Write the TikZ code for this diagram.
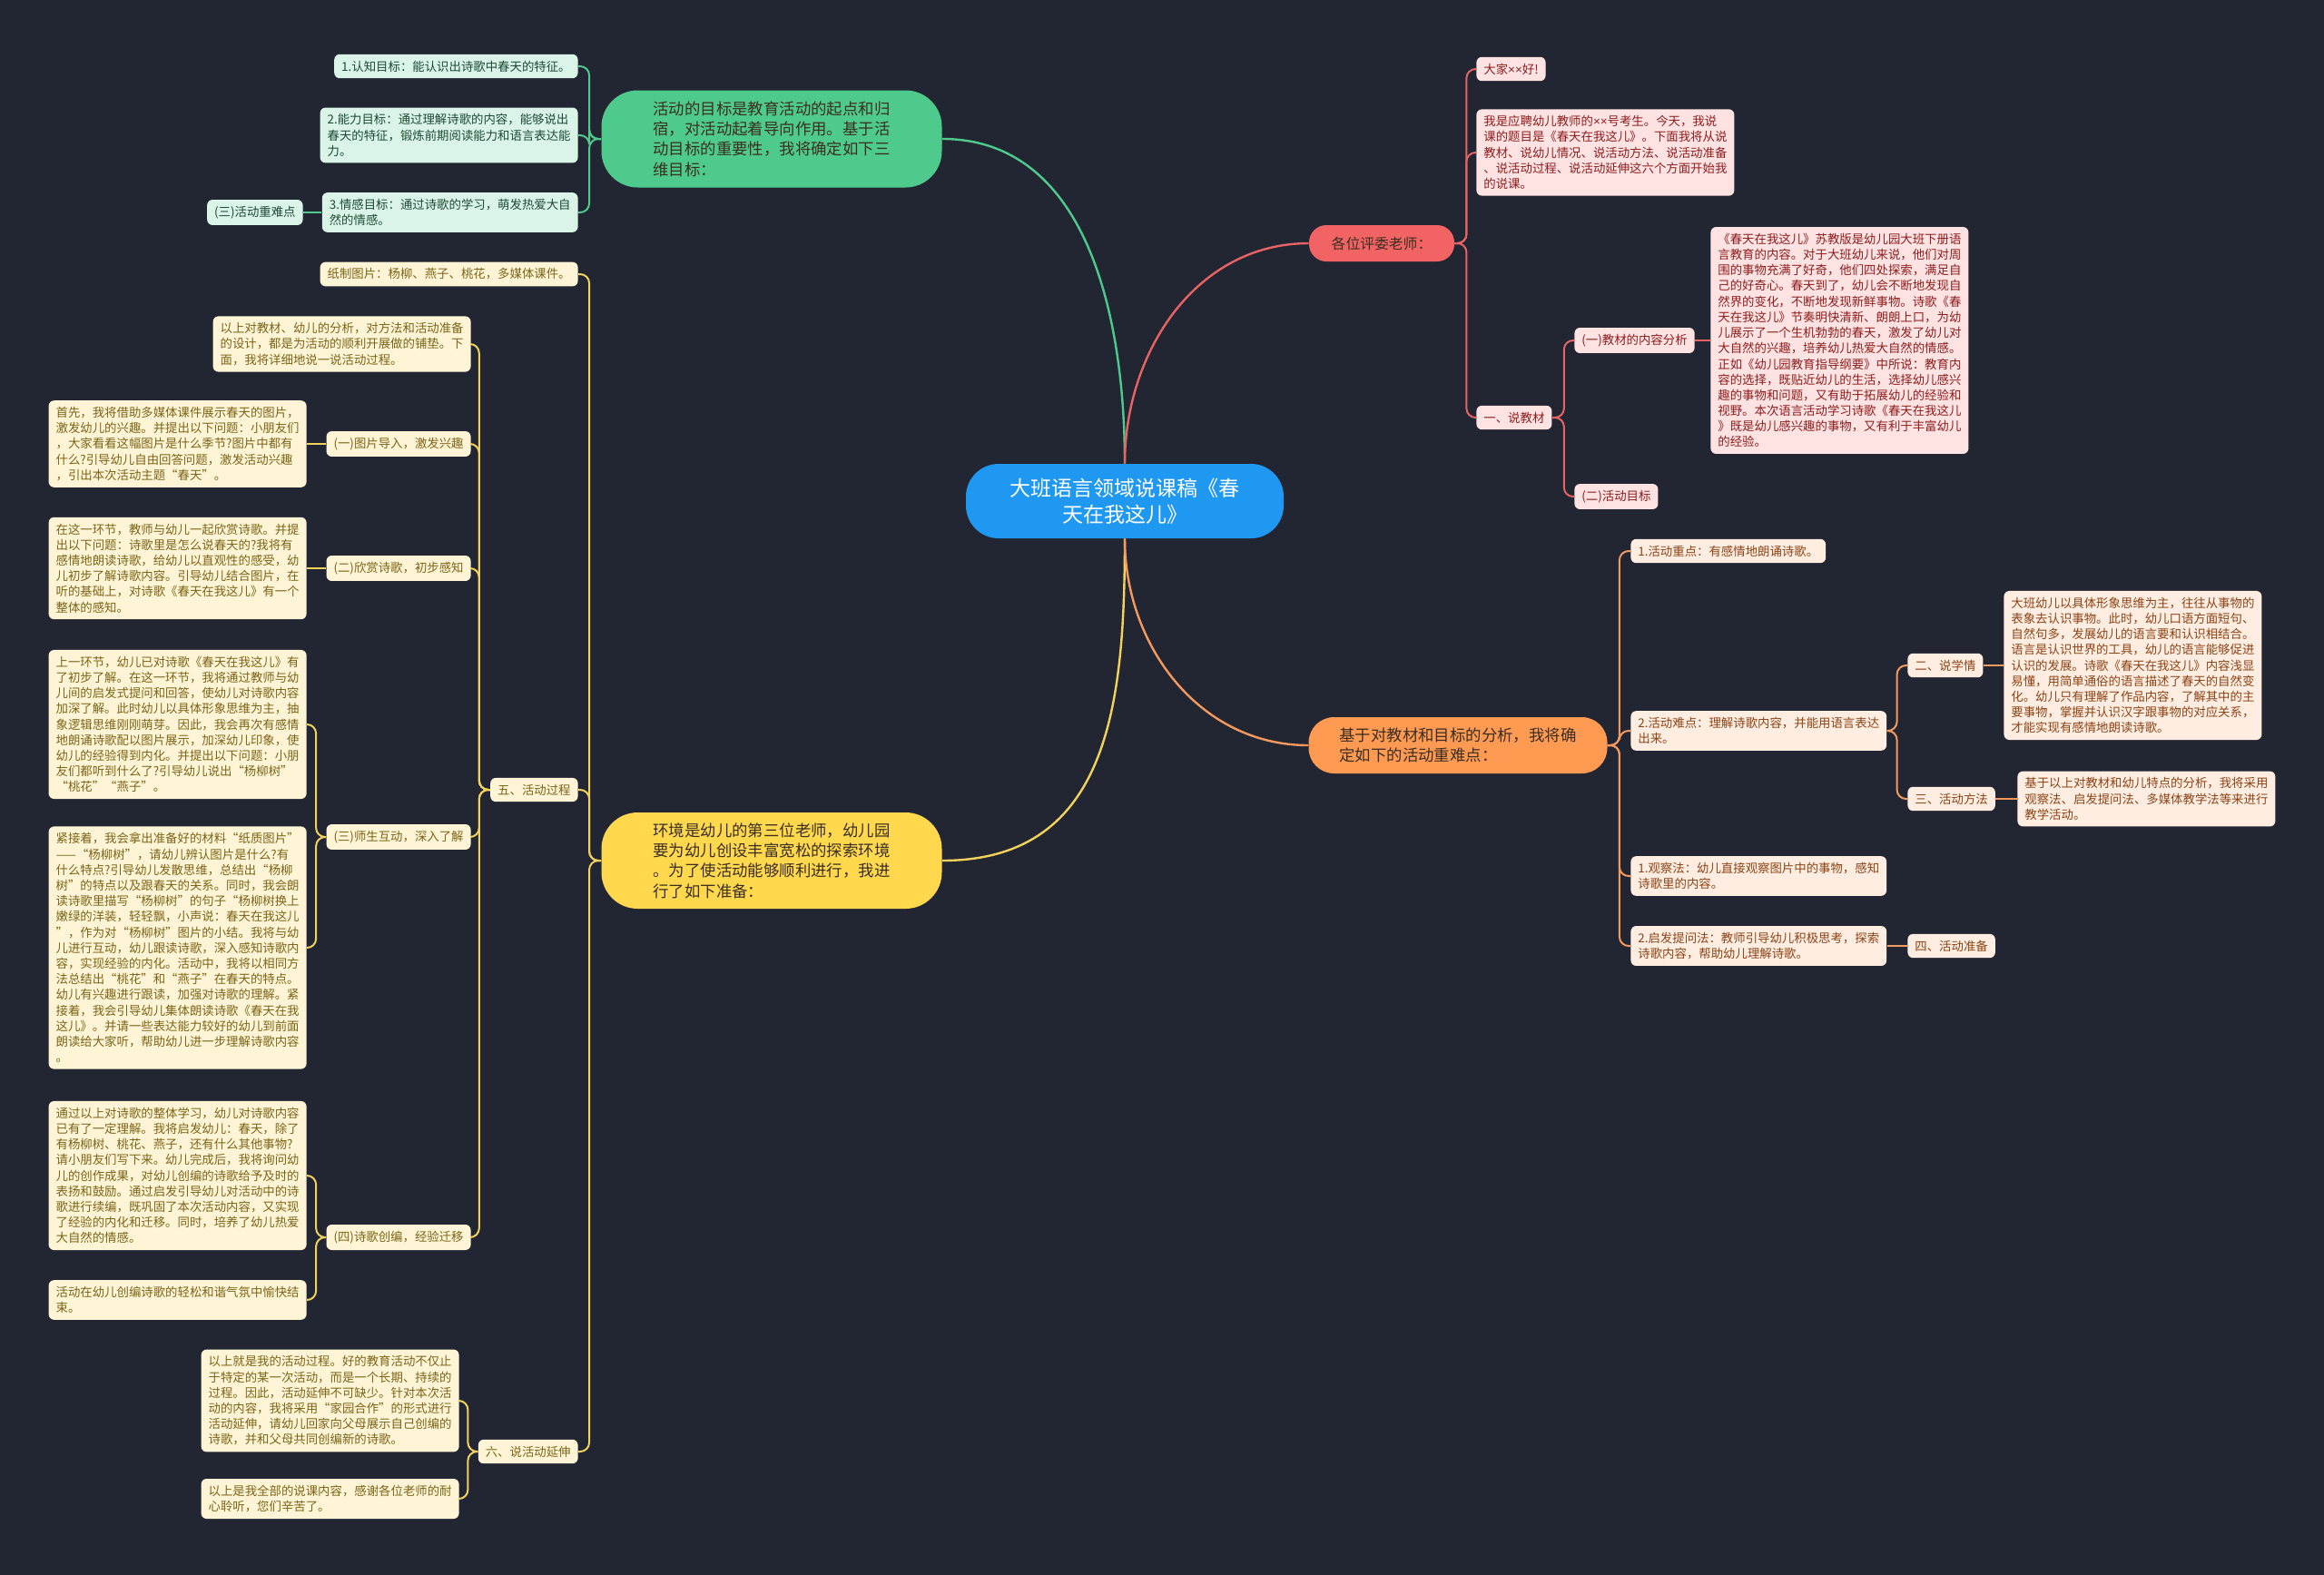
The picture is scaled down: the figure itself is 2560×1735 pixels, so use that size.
\documentclass[tikz,border=0pt]{standalone}
\usepackage{fontspec}
\setmainfont{Noto Sans CJK SC}
\newfontfamily\latinfont{Liberation Sans}
\definecolor{canvas}{HTML}{222633}
\definecolor{rootblue}{HTML}{1E98F0}
\definecolor{topgreen}{HTML}{4ECB8C}
\definecolor{topyellow}{HTML}{FFD84D}
\definecolor{toporange}{HTML}{FF9A52}
\definecolor{topred}{HTML}{F26464}
\definecolor{leafgreen}{HTML}{DAF5E7}
\definecolor{leafyellow}{HTML}{FFF5D6}
\definecolor{leafred}{HTML}{FFE2E2}
\definecolor{leaforange}{HTML}{FFEDE1}
\definecolor{inkgreen}{HTML}{1E4A34}
\definecolor{inkyellow}{HTML}{7A6418}
\definecolor{inkred}{HTML}{8C1E1E}
\definecolor{inkorange}{HTML}{8A4416}
\definecolor{inkdark}{HTML}{3A2E22}
\definecolor{linegreen}{HTML}{4ECB8C}
\definecolor{lineyellow}{HTML}{F2D25A}
\definecolor{linered}{HTML}{E86464}
\definecolor{lineorange}{HTML}{F59A5E}
\newcommand{\leaffont}{\fontsize{6.7pt}{8.6pt}\selectfont}
\newcommand{\topicfont}{\fontsize{8.7pt}{11.2pt}\selectfont}
\newcommand{\rootfont}{\fontsize{11.5pt}{14.5pt}\selectfont}
\newcommand{\redfont}{\fontsize{7.9pt}{10pt}\selectfont}
\newcommand{\xx}{{\latinfont ××}}
\tikzset{
  leaf/.style={rounded corners=3pt, inner xsep=4pt, inner ysep=3.5pt, align=left, font=\leaffont},
  gleaf/.style={leaf, fill=leafgreen, text=inkgreen},
  yleaf/.style={leaf, fill=leafyellow, text=inkyellow},
  rleaf/.style={leaf, fill=leafred, text=inkred},
  oleaf/.style={leaf, fill=leaforange, text=inkorange},
  topic/.style={inner sep=0pt, align=left, font=\topicfont, text=inkdark},
  branch/.style={line width=1.2pt},
  gline/.style={draw=linegreen, line width=1pt, rounded corners=5pt},
  yline/.style={draw=lineyellow, line width=1pt, rounded corners=5pt},
  rline/.style={draw=linered, line width=1pt, rounded corners=5pt},
  oline/.style={draw=lineorange, line width=1pt, rounded corners=5pt},
}
\begin{document}
\begin{tikzpicture}[x=0.5pt, y=-0.5pt]
  % canvas
  \fill[canvas] (0,0) rectangle (2560,1735);
  \useasboundingbox (0,0) rectangle (2560,1735);

  % root and main topics
  \node[rounded corners=18pt, fill=rootblue, text=white, font=\rootfont, align=center,
        minimum width=175pt, minimum height=41pt, inner sep=0pt] (root) at (1239,552)
        {大班语言领域说课稿《春\\天在我这儿》};
  \node[topic, fill=topgreen, rounded corners=20pt, minimum width=187.5pt, minimum height=53.5pt] (gr) at (850,153)
        {活动的目标是教育活动的起点和归\\宿，对活动起着导向作用。基于活\\动目标的重要性，我将确定如下三\\维目标：};
  \node[topic, fill=topyellow, rounded corners=20pt, minimum width=187.5pt, minimum height=53pt] (ye) at (850,948)
        {环境是幼儿的第三位老师，幼儿园\\要为幼儿创设丰富宽松的探索环境\\。为了使活动能够顺利进行，我进\\行了如下准备：};
  \node[topic, fill=toporange, rounded corners=14pt, minimum width=164.5pt, minimum height=31pt] (or) at (1606,821)
        {基于对教材和目标的分析，我将确\\定如下的活动重难点：};
  \node[topic, fill=topred, font=\redfont, text=inkdark, rounded corners=9.5pt, minimum width=80pt, minimum height=20pt] (rd) at (1522,268)
        {各位评委老师：};

  % green branch
  \node[gleaf, anchor=east] (g1) at (637,73) {1.认知目标：能认识出诗歌中春天的特征。};
  \node[gleaf, anchor=east] (g2) at (637,149) {2.能力目标：通过理解诗歌的内容，能够说出\\春天的特征，锻炼前期阅读能力和语言表达能\\力。};
  \node[gleaf, anchor=east] (g3) at (637,234) {3.情感目标：通过诗歌的学习，萌发热爱大自\\然的情感。};
  \node[gleaf, anchor=east] (g3a) at (334,234) {(三)活动重难点};

  % yellow branch
  \node[yleaf, anchor=east] (y1) at (637,302) {纸制图片：杨柳、燕子、桃花，多媒体课件。};
  \node[yleaf, anchor=east] (y5) at (637,870) {五、活动过程};
  \node[yleaf, anchor=east] (y6) at (637,1599) {六、说活动延伸};
  \node[yleaf, anchor=east] (p0) at (519,379) {以上对教材、幼儿的分析，对方法和活动准备\\的设计，都是为活动的顺利开展做的铺垫。下\\面，我将详细地说一说活动过程。};
  \node[yleaf, anchor=east] (p1) at (519,489) {(一)图片导入，激发兴趣};
  \node[yleaf, anchor=east] (p2) at (519,626) {(二)欣赏诗歌，初步感知};
  \node[yleaf, anchor=east] (p3) at (519,922) {(三)师生互动，深入了解};
  \node[yleaf, anchor=east] (p4) at (519,1363) {(四)诗歌创编，经验迁移};
  \node[yleaf, anchor=east] (p1a) at (338,489) {首先，我将借助多媒体课件展示春天的图片，\\激发幼儿的兴趣。并提出以下问题：小朋友们\\，大家看看这幅图片是什么季节?图片中都有\\什么?引导幼儿自由回答问题，激发活动兴趣\\，引出本次活动主题“春天”。};
  \node[yleaf, anchor=east] (p2a) at (338,626) {在这一环节，教师与幼儿一起欣赏诗歌。并提\\出以下问题：诗歌里是怎么说春天的?我将有\\感情地朗读诗歌，给幼儿以直观性的感受，幼\\儿初步了解诗歌内容。引导幼儿结合图片，在\\听的基础上，对诗歌《春天在我这儿》有一个\\整体的感知。};
  \node[yleaf, anchor=east] (p3a) at (338,798) {上一环节，幼儿已对诗歌《春天在我这儿》有\\了初步了解。在这一环节，我将通过教师与幼\\儿间的启发式提问和回答，使幼儿对诗歌内容\\加深了解。此时幼儿以具体形象思维为主，抽\\象逻辑思维刚刚萌芽。因此，我会再次有感情\\地朗诵诗歌配以图片展示，加深幼儿印象，使\\幼儿的经验得到内化。并提出以下问题：小朋\\友们都听到什么了?引导幼儿说出“杨柳树”\\“桃花”“燕子”。};
  \node[yleaf, anchor=east] (p3b) at (338,1044) {紧接着，我会拿出准备好的材料“纸质图片”\\——“杨柳树”，请幼儿辨认图片是什么?有\\什么特点?引导幼儿发散思维，总结出“杨柳\\树”的特点以及跟春天的关系。同时，我会朗\\读诗歌里描写“杨柳树”的句子“杨柳树换上\\嫩绿的洋装，轻轻飘，小声说：春天在我这儿\\”，作为对“杨柳树”图片的小结。我将与幼\\儿进行互动，幼儿跟读诗歌，深入感知诗歌内\\容，实现经验的内化。活动中，我将以相同方\\法总结出“桃花”和“燕子”在春天的特点。\\幼儿有兴趣进行跟读，加强对诗歌的理解。紧\\接着，我会引导幼儿集体朗读诗歌《春天在我\\这儿》。并请一些表达能力较好的幼儿到前面\\朗读给大家听，帮助幼儿进一步理解诗歌内容\\。};
  \node[yleaf, anchor=east] (p4a) at (338,1295) {通过以上对诗歌的整体学习，幼儿对诗歌内容\\已有了一定理解。我将启发幼儿：春天，除了\\有杨柳树、桃花、燕子，还有什么其他事物?\\请小朋友们写下来。幼儿完成后，我将询问幼\\儿的创作成果，对幼儿创编的诗歌给予及时的\\表扬和鼓励。通过启发引导幼儿对活动中的诗\\歌进行续编，既巩固了本次活动内容，又实现\\了经验的内化和迁移。同时，培养了幼儿热爱\\大自然的情感。};
  \node[yleaf, anchor=east] (p4b) at (338,1432) {活动在幼儿创编诗歌的轻松和谐气氛中愉快结\\束。};
  \node[yleaf, anchor=east] (e1) at (506,1543) {以上就是我的活动过程。好的教育活动不仅止\\于特定的某一次活动，而是一个长期、持续的\\过程。因此，活动延伸不可缺少。针对本次活\\动的内容，我将采用“家园合作”的形式进行\\活动延伸，请幼儿回家向父母展示自己创编的\\诗歌，并和父母共同创编新的诗歌。};
  \node[yleaf, anchor=east] (e2) at (506,1651) {以上是我全部的说课内容，感谢各位老师的耐\\心聆听，您们辛苦了。};

  % red branch
  \node[rleaf, anchor=west] (r1) at (1626,76) {大家\xx 好!};
  \node[rleaf, anchor=west] (r2) at (1626,168) {我是应聘幼儿教师的\xx 号考生。今天，我说\\课的题目是《春天在我这儿》。下面我将从说\\教材、说幼儿情况、说活动方法、说活动准备\\、说活动过程、说活动延伸这六个方面开始我\\的说课。};
  \node[rleaf, anchor=west] (r3) at (1626,460) {一、说教材};
  \node[rleaf, anchor=west] (r31) at (1734,375) {(一)教材的内容分析};
  \node[rleaf, anchor=west] (r32) at (1734,547) {(二)活动目标};
  \node[rleaf, anchor=west] (r31a) at (1884,375) {《春天在我这儿》苏教版是幼儿园大班下册语\\言教育的内容。对于大班幼儿来说，他们对周\\围的事物充满了好奇，他们四处探索，满足自\\己的好奇心。春天到了，幼儿会不断地发现自\\然界的变化，不断地发现新鲜事物。诗歌《春\\天在我这儿》节奏明快清新、朗朗上口，为幼\\儿展示了一个生机勃勃的春天，激发了幼儿对\\大自然的兴趣，培养幼儿热爱大自然的情感。\\正如《幼儿园教育指导纲要》中所说：教育内\\容的选择，既贴近幼儿的生活，选择幼儿感兴\\趣的事物和问题，又有助于拓展幼儿的经验和\\视野。本次语言活动学习诗歌《春天在我这儿\\》既是幼儿感兴趣的事物，又有利于丰富幼儿\\的经验。};

  % orange branch
  \node[oleaf, anchor=west] (o1) at (1796,607) {1.活动重点：有感情地朗诵诗歌。};
  \node[oleaf, anchor=west] (o2) at (1796,805) {2.活动难点：理解诗歌内容，并能用语言表达\\出来。};
  \node[oleaf, anchor=west] (o3) at (1796,965) {1.观察法：幼儿直接观察图片中的事物，感知\\诗歌里的内容。};
  \node[oleaf, anchor=west] (o4) at (1796,1042) {2.启发提问法：教师引导幼儿积极思考，探索\\诗歌内容，帮助幼儿理解诗歌。};
  \node[oleaf, anchor=west] (o21) at (2101,733) {二、说学情};
  \node[oleaf, anchor=west] (o22) at (2101,880) {三、活动方法};
  \node[oleaf, anchor=west] (o4a) at (2101,1042) {四、活动准备};
  \node[oleaf, anchor=west] (o21a) at (2207,733) {大班幼儿以具体形象思维为主，往往从事物的\\表象去认识事物。此时，幼儿口语方面短句、\\自然句多，发展幼儿的语言要和认识相结合。\\语言是认识世界的工具，幼儿的语言能够促进\\认识的发展。诗歌《春天在我这儿》内容浅显\\易懂，用简单通俗的语言描述了春天的自然变\\化。幼儿只有理解了作品内容，了解其中的主\\要事物，掌握并认识汉字跟事物的对应关系，\\才能实现有感情地朗读诗歌。};
  \node[oleaf, anchor=west] (o22a) at (2222,880) {基于以上对教材和幼儿特点的分析，我将采用\\观察法、启发提问法、多媒体教学法等来进行\\教学活动。};

  % curves from the root
  \draw[branch, linegreen] (root.north) to[out=90, in=0] (gr.east);
  \draw[branch, linered] (root.north) to[out=90, in=180] (rd.west);
  \draw[branch, lineyellow] (root.south) to[out=-90, in=0, looseness=1.15] (ye.east);
  \draw[branch, lineorange] (root.south) to[out=-90, in=180] (or.west);

  % trunks
  \foreach \c in {g1,g2,g3} \draw[gline] (gr.west) -- ++(-13,0) |- (\c.east);
  \draw[gline] (g3.west) -- (g3a.east);
  \foreach \c in {y1,y5,y6} \draw[yline] (ye.west) -- ++(-13,0) |- (\c.east);
  \foreach \c in {p0,p1,p2,p3,p4} \draw[yline] (y5.west) -- ++(-12,0) |- (\c.east);
  \draw[yline] (p1.west) -- (p1a.east);
  \draw[yline] (p2.west) -- (p2a.east);
  \foreach \c in {p3a,p3b} \draw[yline] (p3.west) -- ++(-11,0) |- (\c.east);
  \foreach \c in {p4a,p4b} \draw[yline] (p4.west) -- ++(-11,0) |- (\c.east);
  \foreach \c in {e1,e2} \draw[yline] (y6.west) -- ++(-11,0) |- (\c.east);
  \foreach \c in {r1,r2,r3} \draw[rline] (rd.east) -- ++(13,0) |- (\c.west);
  \foreach \c in {r31,r32} \draw[rline] (r3.east) -- ++(13,0) |- (\c.west);
  \draw[rline] (r31.east) -- (r31a.west);
  \foreach \c in {o1,o2,o3,o4} \draw[oline] (or.east) -- ++(13,0) |- (\c.west);
  \foreach \c in {o21,o22} \draw[oline] (o2.east) -- ++(11,0) |- (\c.west);
  \draw[oline] (o21.east) -- (o21a.west);
  \draw[oline] (o22.east) -- (o22a.west);
  \draw[oline] (o4.east) -- (o4a.west);
\end{tikzpicture}
\end{document}
